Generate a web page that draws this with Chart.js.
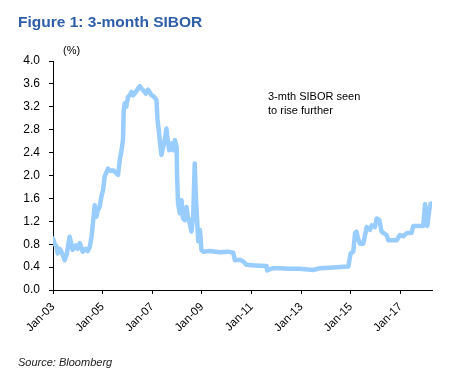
<!DOCTYPE html>
<html>
<head>
<meta charset="utf-8">
<script src="https://cdn.jsdelivr.net/npm/chart.js@4/dist/chart.umd.min.js"></script>
<style>
  body { margin: 0; background: #fff; }
  #wrap { position: relative; width: 467px; height: 389px; font-family: 'Liberation Sans', Arial, sans-serif; }
  #wrap canvas { position: absolute; left: 0; top: 0; }
  .txt { position: absolute; white-space: nowrap; color: #000; }
  #title { left: 18px; top: 13px; font-size: 15.5px; font-weight: bold; color: #2F5EA8; }
  #unit { left: 63px; top: 44px; font-size: 11px; }
  #note { left: 268px; top: 89px; font-size: 11px; line-height: 14px; }
  #source { left: 18px; top: 356px; font-size: 11px; font-style: italic; color: #222; }
</style>
</head>
<body>
<div id="wrap">
  <canvas id="sibor-chart" width="467" height="389"></canvas>
  <div class="txt" id="title">Figure 1: 3-month SIBOR</div>
  <div class="txt" id="unit">(%)</div>
  <div class="txt" id="note">3-mth SIBOR seen<br>to rise further</div>
  <div class="txt" id="source">Source: Bloomberg</div>
</div>
<script>
// dates as decimal years
const years = [
  2003.00, 2003.07, 2003.14, 2003.19, 2003.27, 2003.35, 2003.47, 2003.55, 2003.67, 2003.75,
  2003.79, 2003.92, 2004.00, 2004.08, 2004.20, 2004.32, 2004.40, 2004.48, 2004.56, 2004.61,
  2004.68, 2004.75, 2004.81, 2004.88, 2004.95, 2005.02, 2005.08, 2005.15, 2005.22, 2005.33,
  2005.42, 2005.53, 2005.62, 2005.69, 2005.76, 2005.82, 2005.85, 2005.89, 2005.95, 2006.02,
  2006.09, 2006.16, 2006.23, 2006.29, 2006.40, 2006.50, 2006.56, 2006.63, 2006.74, 2006.83,
  2006.90, 2006.97, 2007.06, 2007.17, 2007.21, 2007.26, 2007.30, 2007.37, 2007.44, 2007.50,
  2007.57, 2007.60, 2007.68, 2007.77, 2007.84, 2007.91, 2007.98, 2008.00, 2008.04, 2008.11,
  2008.18, 2008.24, 2008.31, 2008.38, 2008.44, 2008.48, 2008.58, 2008.65, 2008.71, 2008.75,
  2008.81, 2008.85, 2008.92, 2008.98, 2009.05, 2009.32, 2009.72, 2010.04, 2010.26, 2010.33,
  2010.53, 2010.66, 2010.80, 2011.13, 2011.60, 2011.63, 2011.72, 2011.87, 2012.14, 2012.54,
  2012.94, 2013.48, 2013.75, 2014.15, 2014.56, 2014.90, 2014.99, 2015.10, 2015.17, 2015.23,
  2015.29, 2015.37, 2015.50, 2015.64, 2015.77, 2015.84, 2015.97, 2016.04, 2016.15, 2016.24,
  2016.44, 2016.51, 2016.85, 2016.98, 2017.11, 2017.25, 2017.45, 2017.52, 2017.92, 2017.99,
  2018.03, 2018.08, 2018.16, 2018.22
];

// 3-month SIBOR, %
const sibor = [
  0.90, 0.80, 0.76, 0.64, 0.72, 0.66, 0.52, 0.62, 0.93, 0.78,
  0.70, 0.78, 0.72, 0.82, 0.67, 0.72, 0.68, 0.75, 0.95, 1.17,
  1.48, 1.28, 1.40, 1.45, 1.63, 1.75, 1.98, 2.05, 2.12, 2.08,
  2.09, 2.05, 2.01, 2.27, 2.44, 2.62, 3.14, 3.26, 3.20, 3.37,
  3.40, 3.46, 3.40, 3.43, 3.50, 3.56, 3.52, 3.49, 3.43, 3.50,
  3.45, 3.40, 3.38, 3.32, 2.97, 2.80, 2.62, 2.36, 2.50, 2.62,
  2.82, 2.70, 2.44, 2.56, 2.44, 2.62, 2.50, 1.98, 1.51, 1.34,
  1.57, 1.25, 1.22, 1.45, 1.25, 1.22, 1.02, 1.30, 2.21, 1.69,
  1.20, 0.85, 1.05, 0.70, 0.67, 0.68, 0.66, 0.67, 0.65, 0.52,
  0.53, 0.50, 0.44, 0.43, 0.42, 0.34, 0.36, 0.38, 0.38, 0.37,
  0.37, 0.35, 0.38, 0.39, 0.40, 0.41, 0.64, 0.67, 0.99, 1.02,
  0.90, 0.81, 0.81, 1.10, 1.05, 1.13, 1.10, 1.25, 1.22, 1.02,
  0.96, 0.87, 0.87, 0.96, 0.94, 0.99, 1.00, 1.12, 1.12, 1.50,
  1.16, 1.12, 1.40, 1.51
];

const tickYears = [2003, 2005, 2007, 2009, 2011, 2013, 2015, 2017];

const ctx = document.getElementById('sibor-chart').getContext('2d');

new Chart(ctx, {
  type: 'line',
  data: {
    datasets: [{
      label: '3-month SIBOR',
      data: years.map((yr, i) => ({ x: yr, y: sibor[i] })),
      borderColor: '#99CCFF',
      borderWidth: 4.5,
      pointRadius: 0,
      tension: 0,
      borderJoinStyle: 'round',
      borderCapStyle: 'round',
    }],
  },
  options: {
    responsive: false,
    animation: false,
    layout: { padding: { left: 0, top: 61, right: 35, bottom: 0 } },
    plugins: {
      legend: { display: false },
      tooltip: { enabled: false },
    },
    scales: {
      x: {
        type: 'linear',
        min: 2003,
        max: 2018.27,
        afterBuildTicks(scale) {
          scale.ticks = tickYears.map(v => ({ value: v }));
        },
        afterFit(scale) { scale.height = 99; },
        ticks: {
          autoSkip: false,
          minRotation: 45,
          maxRotation: 45,
          padding: 6,
          color: '#000',
          font: { family: 'Liberation Sans', size: 11.5 },
          callback: v => 'Jan-' + String(v % 100).padStart(2, '0'),
        },
        grid: { drawOnChartArea: false, drawTicks: true, tickLength: 4, color: '#000' },
        border: { display: true, color: '#000', width: 1 },
      },
      y: {
        min: 0,
        max: 4,
        afterFit(scale) { scale.width = 53; },
        ticks: {
          stepSize: 0.4,
          padding: 9,
          color: '#000',
          font: { family: 'Liberation Sans', size: 12 },
          callback: v => v.toFixed(1),
        },
        grid: { drawOnChartArea: false, drawTicks: true, tickLength: 4, color: '#000' },
        border: { display: true, color: '#000', width: 1 },
      },
    },
  },
});
</script>
</body>
</html>
